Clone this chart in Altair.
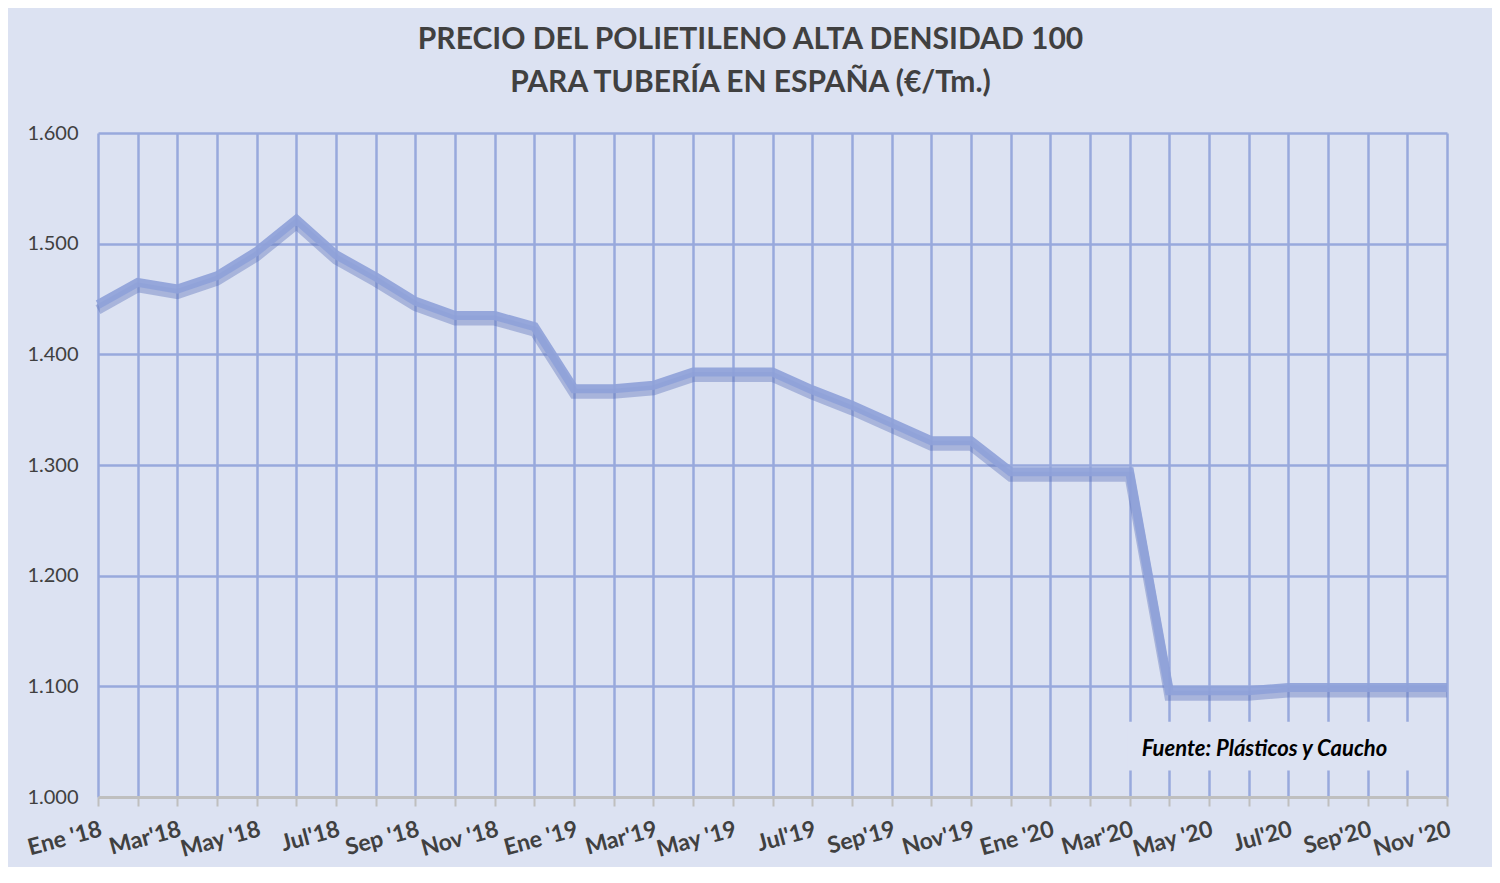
import altair as alt
import pandas as pd

# Months (Jan 2018 .. Nov 2020)
months = ["Ene '18", "Feb '18", "Mar '18", "Abr '18", "May '18", "Jun '18", "Jul '18", "Ago '18",
          "Sep '18", "Oct '18", "Nov '18", "Dic '18",
          "Ene '19", "Feb '19", "Mar '19", "Abr '19", "May '19", "Jun '19", "Jul '19", "Ago '19",
          "Sep '19", "Oct '19", "Nov '19", "Dic '19",
          "Ene '20", "Feb '20", "Mar '20", "Abr '20", "May '20", "Jun '20", "Jul '20", "Ago '20",
          "Sep '20", "Oct '20", "Nov '20"]

prices = [1445, 1465, 1459, 1471, 1493, 1522, 1490, 1470, 1448, 1435, 1435, 1425,
          1369, 1369, 1372, 1384, 1384, 1384, 1368, 1354, 1338, 1322, 1322, 1294,
          1294, 1294, 1294, 1096, 1096, 1096, 1099, 1099, 1099, 1099, 1099]

# Axis tick labels shown every two months
tick_labels = ["Ene '18", "Mar'18", "May '18", "Jul'18", "Sep  '18", "Nov '18",
               "Ene '19", "Mar'19", "May '19", "Jul'19", "Sep'19", "Nov'19",
               "Ene '20", "Mar'20", "May '20", "Jul'20", "Sep'20", "Nov '20"]

y_ticks = [1000, 1100, 1200, 1300, 1400, 1500, 1600]

source_note = ["Fuente: Plásticos y Caucho"]
note_x = [29.4]
note_y = [1043]
note_box_x = [25.95]
note_box_x2 = [33.85]
note_box_y = [1024]
note_box_y2 = [1068]

df = pd.DataFrame({"idx": list(range(len(months))), "mes": months, "precio": prices})
note_df = pd.DataFrame({"t": source_note, "x": note_x, "y": note_y,
                        "bx": note_box_x, "bx2": note_box_x2, "by": note_box_y, "by2": note_box_y2})

BG = "#DCE2F2"
GRID = "#98A9DC"

lbl_array = "[" + ",".join('"%s"' % l for l in tick_labels) + "]"
label_expr = "datum.value % 2 == 0 ? " + lbl_array + "[datum.value / 2] : ''"

x_enc = alt.X(
    "idx:Q",
    scale=alt.Scale(domain=[0, len(months) - 1], nice=False, zero=False),
    axis=alt.Axis(
        values=list(range(len(months))),
        tickCount=60,
        labelExpr=label_expr,
        labelAngle=-15,
        labelAlign="right",
        labelBaseline="top",
        labelFont="Lato",
        labelFontSize=23,
        labelFontWeight="bold",
        labelColor="#404040",
        labelPadding=12,
        labelOverlap=False,
        labelFlush=False,
        tickSize=9,
        tickColor="#BFBFBF",
        tickWidth=2,
        domainColor="#BFBFBF",
        domainWidth=3,
        gridColor=GRID,
        gridWidth=2.5,
        title=None,
    ),
)

y_enc = alt.Y(
    "precio:Q",
    scale=alt.Scale(domain=[1000, 1600], nice=False, zero=False),
    axis=alt.Axis(
        values=y_ticks,
        labelExpr="replace(format(datum.value, ',.0f'), ',', '.')",
        labelFont="Lato",
        labelFontSize=20,
        labelColor="#404040",
        labelPadding=20,
        ticks=False,
        domain=False,
        gridColor=alt.condition("datum.value === 1000", alt.value("transparent"), alt.value(GRID)),
        gridWidth=2.5,
        title=None,
    ),
)

base = alt.Chart(df)

shadow = base.mark_line(color="#5A70BA", strokeWidth=10, opacity=0.4, yOffset=5, strokeJoin="miter").encode(
    x=x_enc, y=y_enc
)
main = base.mark_line(color="#8FA2D9", strokeWidth=9, opacity=0.92, strokeJoin="miter").encode(
    x="idx:Q", y="precio:Q"
)

box = alt.Chart(note_df).mark_rect(color=BG).encode(
    x="bx:Q", x2="bx2", y="by:Q", y2="by2"
)
note = alt.Chart(note_df).mark_text(
    font="Lato", fontSize=22, fontStyle="italic", fontWeight="bold", color="#000000",
    align="center", baseline="middle"
).encode(x="x:Q", y="y:Q", text="t:N")

chart = alt.layer(shadow, main, box, note).properties(
    width=1349,
    height=664,
    padding={"left": 90, "top": 125, "right": 45, "bottom": 70},
    autosize=alt.AutoSizeParams(type="none"),
    background=BG,
    title=alt.TitleParams(
        ["PRECIO DEL POLIETILENO ALTA DENSIDAD 100", "PARA  TUBERÍA EN ESPAÑA (€/Tm.)"],
        font="Lato", fontSize=30, fontWeight="bold", color="#404040",
        anchor="middle", dx=-22, offset=25, lineHeight=43,
    ),
).configure_view(stroke=None)

chart.save("out.html", embed_options={"renderer": "svg", "actions": False})
